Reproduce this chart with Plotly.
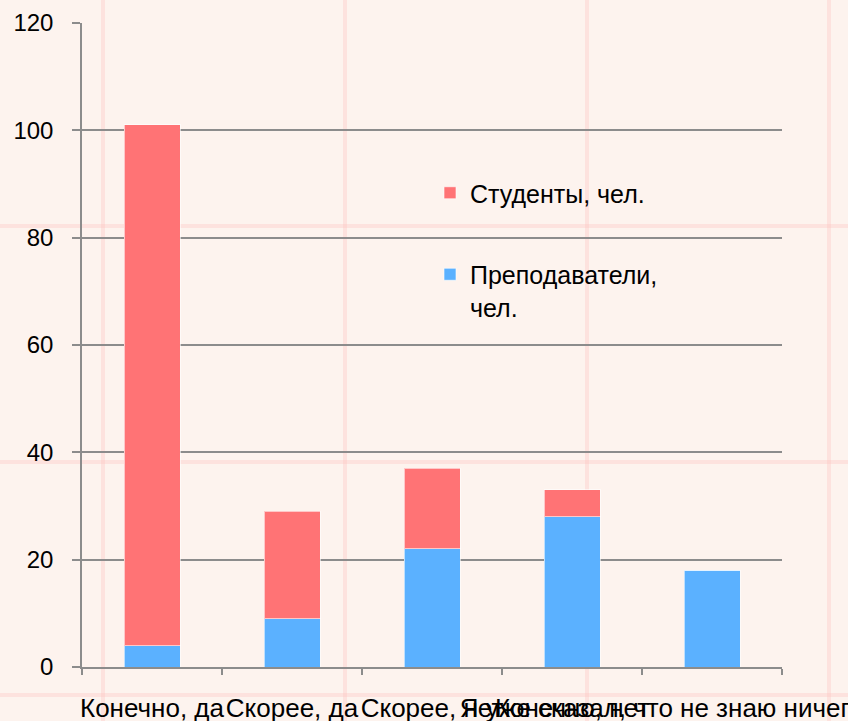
import plotly.graph_objects as go

categories = ["Конечно, да", "Скорее, да", "Скорее, нет", "Конечно, нет",
              "Я уже сказал, что не знаю ничего об этом"]
teachers = [4, 9, 22, 28, 18]
students = [97, 20, 15, 5, 0]
series_names = ["Преподаватели,<br>чел.", "Студенты, чел."]
y_ticks = [0, 20, 40, 60, 80, 100, 120]

RED = "#FF7375"
BLUE = "#5BB1FF"
AXIS = "#8C8C8C"
FONT = "Liberation Sans, Arial, sans-serif"

W, H = 848, 721
L, R, T, B = 82, 66, 23, 54
pw, ph = W - L - R, H - T - B

fig = go.Figure()
fig.add_trace(go.Bar(x=categories, y=teachers, name=series_names[0],
                     marker=dict(color=BLUE, line=dict(color="rgba(255,255,255,0.6)", width=1)),
                     legendgroup="t", legendrank=2))
fig.add_trace(go.Bar(x=categories, y=students, name=series_names[1],
                     marker=dict(color=RED, line=dict(color="rgba(255,255,255,0.6)", width=1)),
                     legendgroup="s", legendrank=1))

# decorative background stripes (pixel positions converted to paper coords)
def px_x(px):
    return (px - L) / pw

def px_y(py):
    return (H - B - py) / ph

shapes = []
for vx in [103, 345, 587, 829]:
    shapes.append(dict(type="line", xref="paper", yref="paper",
                       x0=px_x(vx), x1=px_x(vx), y0=px_y(H), y1=px_y(0),
                       line=dict(color="rgba(255,190,185,0.3)", width=4), layer="below"))
for hy in [226, 462, 695]:
    shapes.append(dict(type="line", xref="paper", yref="paper",
                       x0=px_x(0), x1=px_x(W), y0=px_y(hy), y1=px_y(hy),
                       line=dict(color="rgba(255,190,185,0.3)", width=4), layer="below"))

fig.update_layout(
    width=W, height=H,
    margin=dict(l=L, r=R, t=T, b=B, autoexpand=False),
    paper_bgcolor="#FDF3EE",
    plot_bgcolor="rgba(0,0,0,0)",
    barmode="stack",
    bargap=0.6,
    font=dict(family=FONT, color="#000000"),
    shapes=shapes,
    legend=dict(x=px_x(430), y=px_y(170), xanchor="left", yanchor="top",
                traceorder="grouped", tracegroupgap=46,
                valign="top", bgcolor="rgba(0,0,0,0)",
                font=dict(size=25, family=FONT)),
    xaxis=dict(type="category", tickangle=0, tickson="boundaries",
               ticks="outside", ticklen=6, tickcolor=AXIS, tickwidth=1.5,
               showline=True, linecolor=AXIS, linewidth=1.5,
               showgrid=False, zeroline=False, automargin=False,
               ticklabelstandoff=17,
               tickfont=dict(size=26, family=FONT)),
    yaxis=dict(range=[0, 120], tickvals=y_ticks, ticks="outside", ticklen=8,
               tickcolor=AXIS, tickwidth=1.5,
               showline=True, linecolor=AXIS, linewidth=1.5,
               showgrid=True, gridcolor=AXIS, gridwidth=1.5,
               zeroline=False, automargin=False, ticklabelstandoff=14,
               tickfont=dict(size=24, family=FONT)),
)

fig.write_html("out.html", config={"displayModeBar": False},
               post_script="document.body.style.margin='0';document.body.style.overflow='hidden';")
